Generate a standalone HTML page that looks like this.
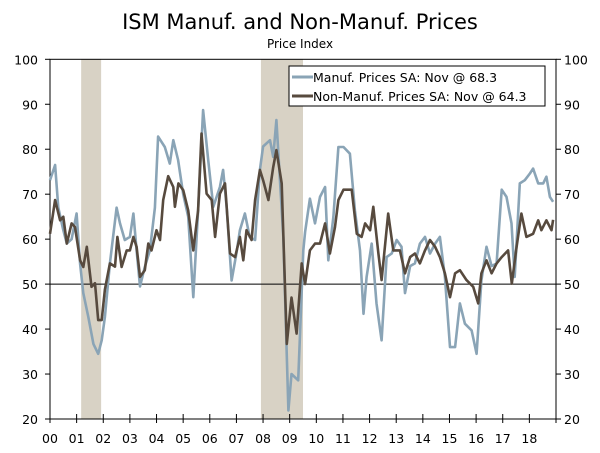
<!DOCTYPE html>
<html><head><meta charset="utf-8"><style>
body{margin:0;background:#fff;}
svg{display:block;font-family:"DejaVu Sans","Liberation Sans",sans-serif;}
</style></head><body>
<svg id="chart" width="600" height="453" viewBox="0 0 600 453">
<text x="300" y="29" text-anchor="middle" font-size="21" fill="#000">ISM Manuf. and Non-Manuf. Prices</text>
<text x="300" y="48" text-anchor="middle" font-size="12" fill="#000">Price Index</text>
<g id="rec"></g>
<g id="grid"></g>
<g id="series"></g>
<g>
<rect x="289" y="66" width="256" height="40" fill="#fff" stroke="#000" stroke-width="1"/>
<line x1="292" y1="77" x2="313" y2="77" stroke="#8aa4b6" stroke-width="3"/>
<text x="313" y="82" font-size="12.5" fill="#000">Manuf. Prices SA: Nov @ 68.3</text>
<line x1="292" y1="96" x2="313" y2="96" stroke="#574a3e" stroke-width="3"/>
<text x="313" y="101" font-size="12.5" fill="#000">Non-Manuf. Prices SA: Nov @ 64.3</text>
</g>
</svg>
<script>
const yTicks=[20,30,40,50,60,70,80,90,100];
const xTickLabels=["00","01","02","03","04","05","06","07","08","09","10","11","12","13","14","15","16","17","18"];
const recessions=[[2001.17,2001.92],[2007.92,2009.5]];
const manufDates=[0,.19,.31,.5,.63,.81,1.0,1.13,1.25,1.44,1.63,1.81,1.94,2.06,2.25,2.5,2.63,2.81,3.0,3.13,3.25,3.38,3.56,3.75,3.94,4.06,4.31,4.5,4.63,4.81,5.0,5.19,5.38,5.56,5.75,5.94,6.13,6.38,6.5,6.63,6.82,7.0,7.13,7.32,7.5,7.7,7.88,8.0,8.26,8.38,8.5,8.76,8.95,9.07,9.32,9.51,9.58,9.76,9.95,10.14,10.33,10.45,10.64,10.83,11.02,11.26,11.45,11.64,11.77,11.89,12.08,12.26,12.45,12.64,12.83,13.02,13.2,13.33,13.52,13.7,13.89,14.08,14.27,14.46,14.64,14.83,15.02,15.21,15.39,15.58,15.83,16.02,16.2,16.39,16.58,16.77,16.96,17.14,17.33,17.45,17.64,17.83,18.02,18.14,18.33,18.52,18.64,18.77,18.89];
const manufValues=[73.1,76.5,67,62,59,60,65.7,54.5,48,42.7,36.7,34.5,37.5,42.7,54.6,67,63.5,59.8,60.5,65.7,57.5,49.5,53.8,57.5,67,82.8,80.5,76.8,82,77.6,70,65,47.1,66.4,88.7,77.6,67.2,71.6,75.4,67.2,50.8,56.8,62,65.7,60.5,59.8,75.4,80.6,82,78.3,86.5,60.5,21.9,30,28.6,57.5,61.6,69,63.5,69.4,71.6,55.3,65,80.5,80.5,79,66.4,57.5,43.4,51.6,59,45.7,37.5,56,56.8,59.8,58.3,48,54,54.6,59,60.5,56.8,59,60.5,51.6,36,36,45.7,41.2,39.7,34.5,50.8,58.3,54,54.6,71,69.4,63.5,51.6,72.4,73.1,74.6,75.7,72.4,72.4,73.9,69.4,68.3];
const nonManufDates=[0,.19,.38,.5,.63,.81,.94,1.13,1.25,1.38,1.56,1.69,1.81,1.94,2.06,2.25,2.44,2.53,2.69,2.88,3.0,3.13,3.25,3.38,3.56,3.69,3.81,4.0,4.13,4.25,4.44,4.63,4.69,4.82,5.0,5.19,5.38,5.56,5.69,5.88,6.07,6.2,6.38,6.57,6.76,6.95,7.13,7.26,7.38,7.57,7.7,7.88,8.0,8.2,8.38,8.5,8.7,8.89,9.07,9.26,9.45,9.58,9.76,9.95,10.14,10.33,10.51,10.7,10.83,11.02,11.33,11.52,11.7,11.83,12.02,12.14,12.33,12.45,12.7,12.89,13.14,13.33,13.52,13.7,13.89,14.08,14.27,14.46,14.64,14.83,15.02,15.21,15.39,15.64,15.89,16.08,16.2,16.39,16.58,16.77,16.96,17.2,17.34,17.52,17.7,17.89,18.14,18.33,18.45,18.64,18.83,18.89];
const nonManufValues=[61.2,68.7,64.2,65,59,63.5,62.7,55.3,53.8,58.3,49.4,50.2,42,42,48.8,54.6,53.9,60.5,53.8,57.5,57.5,60.5,58.3,51.6,53.1,59,57.5,62,59.8,68.7,74,71.6,67.2,72.4,70.9,66.4,57.5,66.4,83.5,70.1,68.7,60.5,70.1,72.4,56.8,56,60.5,55.3,62,59.8,68.7,75.4,73.1,68.7,76,79.8,72.4,36.7,47,39,54.6,50,57.5,59,59,63.5,56.8,62.7,68.7,71,71,61.2,60.5,63.5,62,67.2,56.8,50.9,65.7,57.5,57.5,52.4,56,56.8,54.6,57.5,59.8,58.3,56,52.4,47.1,52.4,53.1,50.9,49.4,45.7,52.4,55.3,52.4,54.6,56,57.5,50.1,58.3,65.7,60.5,61.2,64.2,62,64.2,62,64.3];

const X0=50,X1=556,Y0=419,Y1=59.3,YRS=19;
const xs=t=>X0+(t/YRS)*(X1-X0);
const ys=v=>Y0-(v-20)/80*(Y0-Y1);
const NS="http://www.w3.org/2000/svg";
function mk(tag,attrs,parent){const e=document.createElementNS(NS,tag);for(const k in attrs)e.setAttribute(k,attrs[k]);parent.appendChild(e);return e;}

const rec=document.getElementById('rec');
recessions.forEach(r=>{
  const e=mk('rect',{x:xs(r[0]-2000),y:Y1,width:xs(r[1]-2000)-xs(r[0]-2000),height:Y0-Y1,fill:'#d8d2c5'},rec);
  
  
});

const g=document.getElementById('grid');
let fr=mk('rect',{x:X0,y:Y1,width:X1-X0,height:Y0-Y1,fill:'none',stroke:'#000','stroke-width':1},g);


let fl=mk('line',{x1:X0,x2:X1,y1:ys(50),y2:ys(50),stroke:'#000','stroke-width':1},g);


yTicks.forEach(v=>{
  const y=ys(v);
  mk('line',{x1:X0-5,x2:X0,y1:y,y2:y,stroke:'#000'},g);
  mk('line',{x1:X1,x2:X1+5,y1:y,y2:y,stroke:'#000'},g);
  const l=mk('text',{x:38,y:y+5,'text-anchor':'end','font-size':12.5},g);l.textContent=v;
  
  
  const r=mk('text',{x:564,y:y+5,'font-size':12.5},g);r.textContent=v;
  
  
});
xTickLabels.forEach((s,i)=>{
  const x=xs(i);
  mk('line',{x1:x,x2:x,y1:Y0-5,y2:Y0+4,stroke:'#000'},g);
  const t=mk('text',{x:x,y:443,'text-anchor':'middle','font-size':12.5},g);t.textContent=s;
  
  
});
mk('line',{x1:X1,x2:X1,y1:Y0,y2:Y0+4,stroke:'#000'},g);

const sg=document.getElementById('series');
function line(d,v,col,name){
  const p=d.map((t,i)=>(i?'L':'M')+xs(t).toFixed(1)+','+ys(v[i]).toFixed(1)).join('');
  const e=mk('path',{d:p,fill:'none',stroke:col,'stroke-width':2.6,'stroke-linejoin':'round'},sg);
  
  
}
line(manufDates,manufValues,'#8aa4b6','manuf-prices-line');
line(nonManufDates,nonManufValues,'#574a3e','non-manuf-prices-line');
</script>
</body></html>
